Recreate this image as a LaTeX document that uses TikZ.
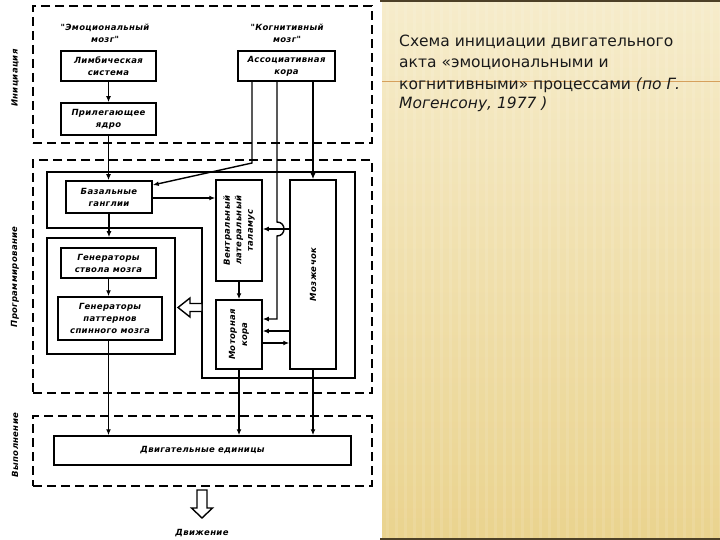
\documentclass[tikz,border=0pt]{standalone}
\usepackage{fontspec}
\usetikzlibrary{arrows.meta}
\newfontfamily\dfont[LetterSpace=4]{DejaVu Sans}
\newfontfamily\tfont{DejaVu Sans}
\newcommand{\dtxt}{\dfont\bfseries\itshape\fontsize{8.5}{12}\selectfont}
\newcommand{\dtxtn}{\dfont\bfseries\itshape\fontsize{8.5}{11.5}\selectfont}
\newcommand{\ttxt}{\tfont\fontsize{15.5}{20}\selectfont}
\definecolor{paneltop}{HTML}{F6ECCB}
\definecolor{panelbot}{HTML}{EAD38E}
\definecolor{orangeline}{HTML}{D6A05C}
\definecolor{darkband}{HTML}{4D4027}
\definecolor{ink}{HTML}{1A1A1A}
\begin{document}
\begin{tikzpicture}[x=1pt,y=-1pt,
  box/.style={draw, line width=1.5pt, inner sep=0pt, align=center, font=\dtxt},
  dlab/.style={font=\dtxt, align=center, inner sep=0pt},
  arr/.style={line width=1.4pt, -{Latex[length=6pt,width=4.8pt]}},
  dbox/.style={draw, line width=1.8pt, dash pattern=on 9pt off 5pt, inner sep=0pt},
  hollow/.style={draw, line width=1.4pt, fill=white, line join=miter},
  rtext/.style={anchor=base west, inner sep=0pt, font=\ttxt, text=ink}
]
\useasboundingbox (0,0) rectangle (720,540);
\fill[white] (0,0) rectangle (382,540);
% right panel
\shade[top color=paneltop, bottom color=panelbot] (382,0) rectangle (720,540);
\foreach \i in {0,...,37} {
  \fill[white, opacity=0.10] (386+\i*9,0) rectangle (389+\i*9,540);
}
\fill[darkband] (380,0) rectangle (720,2.5);
\fill[darkband] (380,537.5) rectangle (720,540);
\draw[orangeline, line width=1pt] (382,82) -- (720,82);
\node[rtext] (t1) at (399,47) {Схема инициации двигательного};
\node[rtext] (t2) at (399,68) {акта «эмоциональными и};
\node[rtext] (t3) at (399,89.5) {когнитивными» процессами {\itshape (по Г.}};
\node[rtext] (t4) at (399,109) {\itshape Могенсону, 1977 )};

% dashed stage frames
\node[dbox, minimum width=339pt, minimum height=137pt] (init) at (202.5,74.5) {};
\node[dbox, minimum width=339pt, minimum height=233pt] (prog) at (202.5,276.5) {};
\node[dbox, minimum width=339pt, minimum height=70pt] (exec) at (202.5,451) {};
\node[dlab, rotate=90] (l1) at (15,78) {Инициация};
\node[dlab, rotate=90] (l2) at (15,277) {Программирование};
\node[dlab, rotate=90] (l3) at (15,445) {Выполнение};

% initiation
\node[dlab] (emo) at (105,33) {"Эмоциональный\\мозг"};
\node[dlab] (cog) at (287,33) {"Когнитивный\\мозг"};
\node[box, minimum width=95pt, minimum height=30pt] (limb) at (108.5,66) {Лимбическая\\система};
\node[box, minimum width=95pt, minimum height=32pt] (prileg) at (108.5,119) {Прилегающее\\ядро};
\node[box, minimum width=97pt, minimum height=30pt] (assoc) at (286.5,66) {Ассоциативная\\кора};

% programming
\draw[line width=1.5pt] (47,172) -- (355,172) -- (355,378) -- (202,378) -- (202,228) -- (47,228) -- cycle;
\node[box, minimum width=128pt, minimum height=116pt] (gen) at (111,296) {};
\node[box, minimum width=86pt, minimum height=32pt] (basal) at (109,197) {Базальные\\ганглии};
\node[box, minimum width=95pt, minimum height=30pt] (gs) at (108.5,263) {Генераторы\\ствола мозга};
\node[box, minimum width=104pt, minimum height=43pt] (gp) at (110,318.5) {Генераторы\\паттернов\\спинного мозга};
\node[box, minimum width=46pt, minimum height=101pt] (thal) at (239,230.5) {};
\node[dlab, rotate=90, font=\dtxtn] (thaltxt) at (thal.center) {Вентральный\\латеральный\\таламус};
\node[box, minimum width=46pt, minimum height=69pt] (motor) at (239,334.5) {};
\node[dlab, rotate=90] (motortxt) at (motor.center) {Моторная\\кора};
\node[box, minimum width=46pt, minimum height=189pt] (cereb) at (313,274.5) {};
\node[dlab, rotate=90] (cerebtxt) at (cereb.center) {Мозжечок};

% execution
\node[box, minimum width=297pt, minimum height=29pt] (units) at (202.5,450.5) {Двигательные единицы};
\node[dlab] (move) at (202,533) {Движение};

% helper coordinates
\coordinate (c1) at (252,0);
\coordinate (c2) at (277,0);
\coordinate (c3) at (313,0);
\coordinate (yA) at (0,185);
\coordinate (yB) at (0,198);
\coordinate (yC) at (0,229);
\coordinate (yD) at (0,319);
\coordinate (yE) at (0,331);
\coordinate (yF) at (0,343);

% connectors
\draw[arr] (limb.south) -- (prileg.north);
\draw[arr] (prileg.south) -- (prileg.south |- basal.north);
\draw[arr] (assoc.south -| c1) -- (252,163) -- (basal.east |- yA);
\draw[arr] (assoc.south -| c2) -- (277,222) .. controls (286.3,222) and (286.3,236) .. (277,236) -- (277,319) -- (motor.east |- yD);
\draw[arr] (assoc.south -| c3) -- (cereb.north);
\draw[arr] (basal.east |- yB) -- (thal.west |- yB);
\draw[arr] (cereb.west |- yC) -- (thal.east |- yC);
\draw[arr] (thal.south) -- (motor.north);
\draw[arr] (cereb.west |- yE) -- (motor.east |- yE);
\draw[arr] (motor.east |- yF) -- (cereb.west |- yF);
\draw[arr] (basal.south) -- (basal.south |- gen.north);
\draw[arr] (gs.south) -- (gs.south |- gp.north);
\draw[arr] (gs.south |- gp.south) -- (gs.south |- units.north);
\draw[arr] (motor.south) -- (motor.south |- units.north);
\draw[arr] (cereb.south) -- (cereb.south |- units.north);

% hollow arrows
\draw[hollow] (202,303.5) -- (190,303.5) -- (190,298) -- (178,307.5) -- (190,317) -- (190,311.5) -- (202,311.5) -- cycle;
\draw[hollow] (197,490) -- (207,490) -- (207,508) -- (212.5,508) -- (202,518) -- (191.5,508) -- (197,508) -- cycle;
\end{tikzpicture}
\end{document}
